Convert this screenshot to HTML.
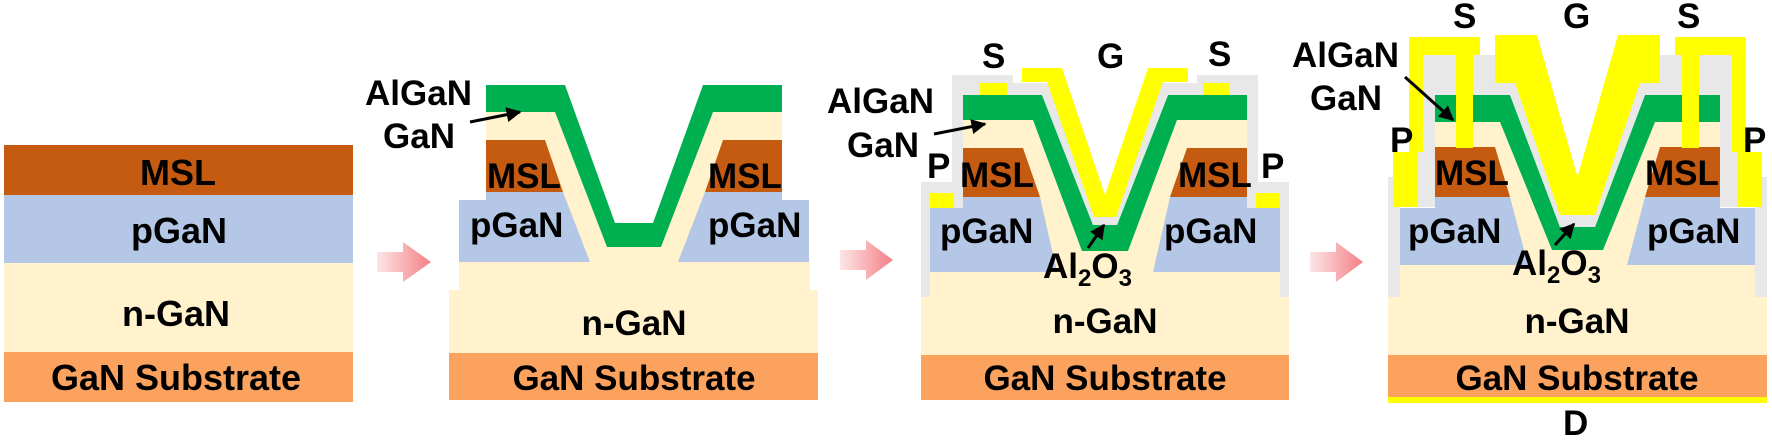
<!DOCTYPE html>
<html><head><meta charset="utf-8"><style>
html,body{margin:0;padding:0;background:#fff;}
svg{display:block;}
text{font-family:"Liberation Sans",Arial,sans-serif;font-weight:bold;fill:#000;}
</style></head><body>
<svg width="1772" height="441" viewBox="0 0 1772 441" xmlns="http://www.w3.org/2000/svg">
<defs>
<linearGradient id="ag" x1="0" x2="1" y1="0" y2="0"><stop offset="0" stop-color="#fde6e6"/><stop offset="1" stop-color="#f37f86"/></linearGradient>
<marker id="ah" viewBox="0 0 10 10" refX="9" refY="5" markerWidth="5" markerHeight="5" orient="auto"><path d="M0,0 L10,5 L0,10 z" fill="#000"/></marker>
</defs>

<!-- Panel 1 -->
<rect x="4" y="145" width="349" height="50" fill="#c55a11"/>
<rect x="4" y="195" width="349" height="68" fill="#b4c7e7"/>
<rect x="4" y="263" width="349" height="89" fill="#fff2cc"/>
<rect x="4" y="352" width="349" height="50" fill="#fba25e"/>
<text x="178" y="185" font-size="36" text-anchor="middle">MSL</text>
<text x="179" y="243" font-size="36" text-anchor="middle">pGaN</text>
<text x="176" y="326" font-size="36" text-anchor="middle">n-GaN</text>
<text x="176" y="390" font-size="36" text-anchor="middle">GaN Substrate</text>

<!-- arrows -->
<path d="M377,252 H403 V242 L431,262 L403,282 V272 H377 Z" fill="url(#ag)"/>
<path d="M840,250 H866 V240 L893,260 L866,280 V270 H840 Z" fill="url(#ag)"/>
<path d="M1310,252 H1336 V242 L1363,262 L1336,282 V272 H1310 Z" fill="url(#ag)"/>

<!-- Panel 2 -->
<rect x="449" y="353" width="369" height="47" fill="#fba25e"/>
<rect x="449" y="290" width="369" height="63" fill="#fff2cc"/>
<rect x="459" y="262" width="351" height="28" fill="#fff2cc"/>
<g id="p2">
<polygon points="486,112 555,112 607,247 634,247 634,262 486,262" fill="#fff2cc"/>
<polygon points="459,200 486,200 486,192 563,192 590,262 459,262" fill="#b4c7e7"/>
<polygon points="486,140 545,140 563,192 486,192" fill="#c55a11"/>
<polygon points="486,85 565,85 615,223 634,223 634,247 607,247 555,112 486,112" fill="#00b050"/>
</g>
<use href="#p2" transform="translate(1268,0) scale(-1,1)"/>
<text x="365" y="105" font-size="35">AlGaN</text>
<text x="383" y="148" font-size="35">GaN</text>
<line x1="470" y1="122" x2="520" y2="112" stroke="#000" stroke-width="3" marker-end="url(#ah)"/>
<text x="487" y="188" font-size="35">MSL</text>
<text x="708" y="188" font-size="35">MSL</text>
<text x="470" y="237" font-size="35">pGaN</text>
<text x="708" y="237" font-size="35">pGaN</text>
<text x="634" y="335" font-size="35" text-anchor="middle">n-GaN</text>
<text x="634" y="390" font-size="35" text-anchor="middle">GaN Substrate</text>

<!-- Panel 3 -->
<rect x="921" y="355" width="368" height="45" fill="#fba25e"/>
<rect x="921" y="272" width="368" height="83" fill="#fff2cc"/>
<g id="p3">
<polygon points="963,120 1033,120 1082,251 1105,251 1105,272 963,272" fill="#fff2cc"/>
<polygon points="930,197 1040,197 1057,272 930,272" fill="#b4c7e7"/>
<polygon points="963,148 1023,148 1040,197 963,197" fill="#c55a11"/>
<polygon points="963,95 1042,95 1093,225 1105,225 1105,251 1082,251 1033,120 963,120" fill="#00b050"/>
<polygon points="963,83 1050,83 1100,217 1105,217 1105,225 1093,225 1042,95 963,95" fill="#e8e8e8"/>
<rect x="952" y="83" width="11" height="125" fill="#e8e8e8"/>
<rect x="952" y="75" width="61" height="10" fill="#e8e8e8"/>
<rect x="921" y="182" width="33" height="11" fill="#e8e8e8"/>
<rect x="921" y="182" width="9" height="115" fill="#e8e8e8"/>
<rect x="980" y="83" width="27" height="12" fill="#ffff00"/>
<rect x="930" y="193" width="24" height="15" fill="#ffff00"/>
<polygon points="1022,68 1062,68 1105,195 1105,217 1094,217 1047,82 1022,82" fill="#ffff00"/>
</g>
<use href="#p3" transform="translate(2210,0) scale(-1,1)"/>
<text x="982" y="68" font-size="35">S</text>
<text x="1097" y="68" font-size="35">G</text>
<text x="1208" y="66" font-size="35">S</text>
<text x="827" y="113" font-size="35">AlGaN</text>
<text x="847" y="157" font-size="35">GaN</text>
<line x1="934" y1="134" x2="985" y2="124" stroke="#000" stroke-width="3" marker-end="url(#ah)"/>
<text x="927" y="178" font-size="35">P</text>
<text x="1261" y="178" font-size="35">P</text>
<text x="960" y="187" font-size="35">MSL</text>
<text x="1178" y="187" font-size="35">MSL</text>
<text x="940" y="243" font-size="35">pGaN</text>
<text x="1164" y="243" font-size="35">pGaN</text>
<text x="1043" y="278" font-size="35">Al<tspan font-size="24" dy="8">2</tspan><tspan dy="-8">O</tspan><tspan font-size="24" dy="8">3</tspan></text>
<line x1="1088" y1="248" x2="1104" y2="225" stroke="#000" stroke-width="3" marker-end="url(#ah)"/>
<text x="1105" y="333" font-size="35" text-anchor="middle">n-GaN</text>
<text x="1105" y="390" font-size="35" text-anchor="middle">GaN Substrate</text>

<!-- Panel 4 -->
<rect x="1388" y="355" width="379" height="42" fill="#fba25e"/>
<rect x="1388" y="397" width="379" height="6" fill="#ffff00"/>
<rect x="1388" y="265" width="379" height="90" fill="#fff2cc"/>
<g id="p4">
<polygon points="1435,122 1500,122 1552,250 1577.5,250 1577.5,265 1435,265" fill="#fff2cc"/>
<polygon points="1398,208 1435,208 1435,197 1510,197 1528,265 1398,265" fill="#b4c7e7"/>
<polygon points="1435,147 1495,147 1510,197 1435,197" fill="#c55a11"/>
<polygon points="1435,95 1510,95 1560,227 1577.5,227 1577.5,250 1552,250 1500,122 1435,122" fill="#00b050"/>
<polygon points="1418,55 1495,55 1495,83 1518,83 1565,215 1577.5,215 1577.5,227 1560,227 1510,95 1435,95 1435,207 1418,207" fill="#e8e8e8"/>
<rect x="1388" y="177" width="12" height="120" fill="#e8e8e8"/>
<polygon points="1409,37 1480,37 1480,55 1423,55 1423,152 1418,152 1418,207 1393,207 1393,152 1409,152" fill="#ffff00"/>
<rect x="1456" y="55" width="17" height="93" fill="#ffff00"/>
<polygon points="1495,35 1537,35 1577.5,177 1577.5,215 1560,215 1515,83 1495,83" fill="#ffff00"/>
</g>
<use href="#p4" transform="translate(3155,0) scale(-1,1)"/>
<text x="1453" y="28" font-size="35">S</text>
<text x="1563" y="28" font-size="35">G</text>
<text x="1677" y="28" font-size="35">S</text>
<text x="1292" y="67" font-size="35">AlGaN</text>
<text x="1310" y="110" font-size="35">GaN</text>
<line x1="1405" y1="77" x2="1453" y2="120" stroke="#000" stroke-width="3" marker-end="url(#ah)"/>
<text x="1390" y="152" font-size="35">P</text>
<text x="1743" y="152" font-size="35">P</text>
<text x="1435" y="185" font-size="35">MSL</text>
<text x="1645" y="185" font-size="35">MSL</text>
<text x="1408" y="243" font-size="35">pGaN</text>
<text x="1647" y="243" font-size="35">pGaN</text>
<text x="1512" y="275" font-size="35">Al<tspan font-size="24" dy="8">2</tspan><tspan dy="-8">O</tspan><tspan font-size="24" dy="8">3</tspan></text>
<line x1="1555" y1="245" x2="1574" y2="224" stroke="#000" stroke-width="3" marker-end="url(#ah)"/>
<text x="1577" y="333" font-size="35" text-anchor="middle">n-GaN</text>
<text x="1577" y="390" font-size="35" text-anchor="middle">GaN Substrate</text>
<text x="1563" y="435" font-size="35">D</text>
</svg>
</body></html>
